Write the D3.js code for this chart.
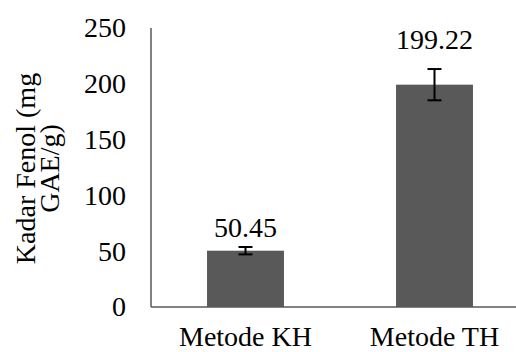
<!DOCTYPE html>
<html>
<head>
<meta charset="utf-8">
<script src="https://cdn.jsdelivr.net/npm/d3@7/dist/d3.min.js"></script>
<style>
  html, body { margin: 0; padding: 0; background: #fff; }
  svg { display: block; }
  text { font-family: "Liberation Serif", "Times New Roman", serif; fill: #000; }
</style>
</head>
<body>
<svg id="chart" width="516" height="352"></svg>
<script>
// ---- data ----
const categories = ["Metode KH", "Metode TH"];
const values = [50.45, 199.22];
const errors = [3.3, 14];
const valueLabels = ["50.45", "199.22"];
const yTicks = [0, 50, 100, 150, 200, 250];
const yTitleLines = ["Kadar Fenol (mg", "GAE/g)"];

// ---- layout ----
const W = 516, H = 352;
const plot = { left: 151, right: 529, top: 28, bottom: 307 };
const labelGap = [10, 20];

const svg = d3.select("#chart");

const x = d3.scaleBand()
  .domain(categories)
  .range([plot.left, plot.right])
  .paddingInner(0.593)
  .paddingOuter(0.2965);

const y = d3.scaleLinear()
  .domain([0, 250])
  .range([plot.bottom, plot.top]);

// y tick labels (no tick marks)
const yAxis = d3.axisLeft(y).tickValues(yTicks).tickSize(0).tickPadding(25).tickFormat(d3.format("d"));
const gy = svg.append("g")
  .attr("transform", `translate(${plot.left},0)`)
  .call(yAxis);
gy.select(".domain").remove();
gy.selectAll("text")
  .style("font-family", '"Liberation Serif", "Times New Roman", serif')
  .style("font-size", "28px")
  .attr("fill", "#000");

// bars
svg.append("g").selectAll("rect")
  .data(categories)
  .join("rect")
  .attr("x", d => x(d))
  .attr("width", x.bandwidth())
  .attr("y", (d, i) => y(values[i]))
  .attr("height", (d, i) => y(0) - y(values[i]))
  .attr("fill", "#595959");

// axis lines
svg.append("line")
  .attr("x1", plot.left).attr("x2", plot.left)
  .attr("y1", plot.top).attr("y2", plot.bottom)
  .attr("stroke", "#595959").attr("stroke-width", 1.5);

const xAxis = d3.axisBottom(x).tickSize(0).tickPadding(0);
const gx = svg.append("g")
  .attr("transform", `translate(0,${plot.bottom})`)
  .call(xAxis);
gx.select(".domain")
  .attr("stroke", "#595959").attr("stroke-width", 1.5)
  .attr("d", `M${plot.left},0H${plot.right}`);
gx.selectAll("text")
  .style("font-family", '"Liberation Serif", "Times New Roman", serif')
  .style("font-size", "28px")
  .attr("fill", "#000")
  .attr("y", 39)
  .attr("dy", null);

// error bars
const eg = svg.append("g").attr("stroke", "#000").attr("stroke-width", 2).attr("fill", "none");
categories.forEach((c, i) => {
  const cx = x(c) + x.bandwidth() / 2;
  const yt = y(values[i] + errors[i]);
  const yb = y(values[i] - errors[i]);
  eg.append("line").attr("x1", cx).attr("x2", cx).attr("y1", yt).attr("y2", yb);
  eg.append("line").attr("x1", cx - 7).attr("x2", cx + 7).attr("y1", yt).attr("y2", yt);
  eg.append("line").attr("x1", cx - 7).attr("x2", cx + 7).attr("y1", yb).attr("y2", yb);
});

// value labels
svg.append("g").selectAll("text")
  .data(categories)
  .join("text")
  .attr("x", d => x(d) + x.bandwidth() / 2)
  .attr("y", (d, i) => y(values[i] + errors[i]) - labelGap[i])
  .attr("text-anchor", "middle")
  .style("font-size", "28px")
  .text((d, i) => valueLabels[i]);

// y title
const ty = svg.append("text")
  .attr("transform", `translate(35,${(plot.top + plot.bottom) / 2 + 1}) rotate(-90)`)
  .attr("text-anchor", "middle")
  .style("font-size", "28px");
yTitleLines.forEach((t, i) => {
  ty.append("tspan").attr("x", 0).attr("y", i * 23.5).text(t);
});
</script>
</body>
</html>
